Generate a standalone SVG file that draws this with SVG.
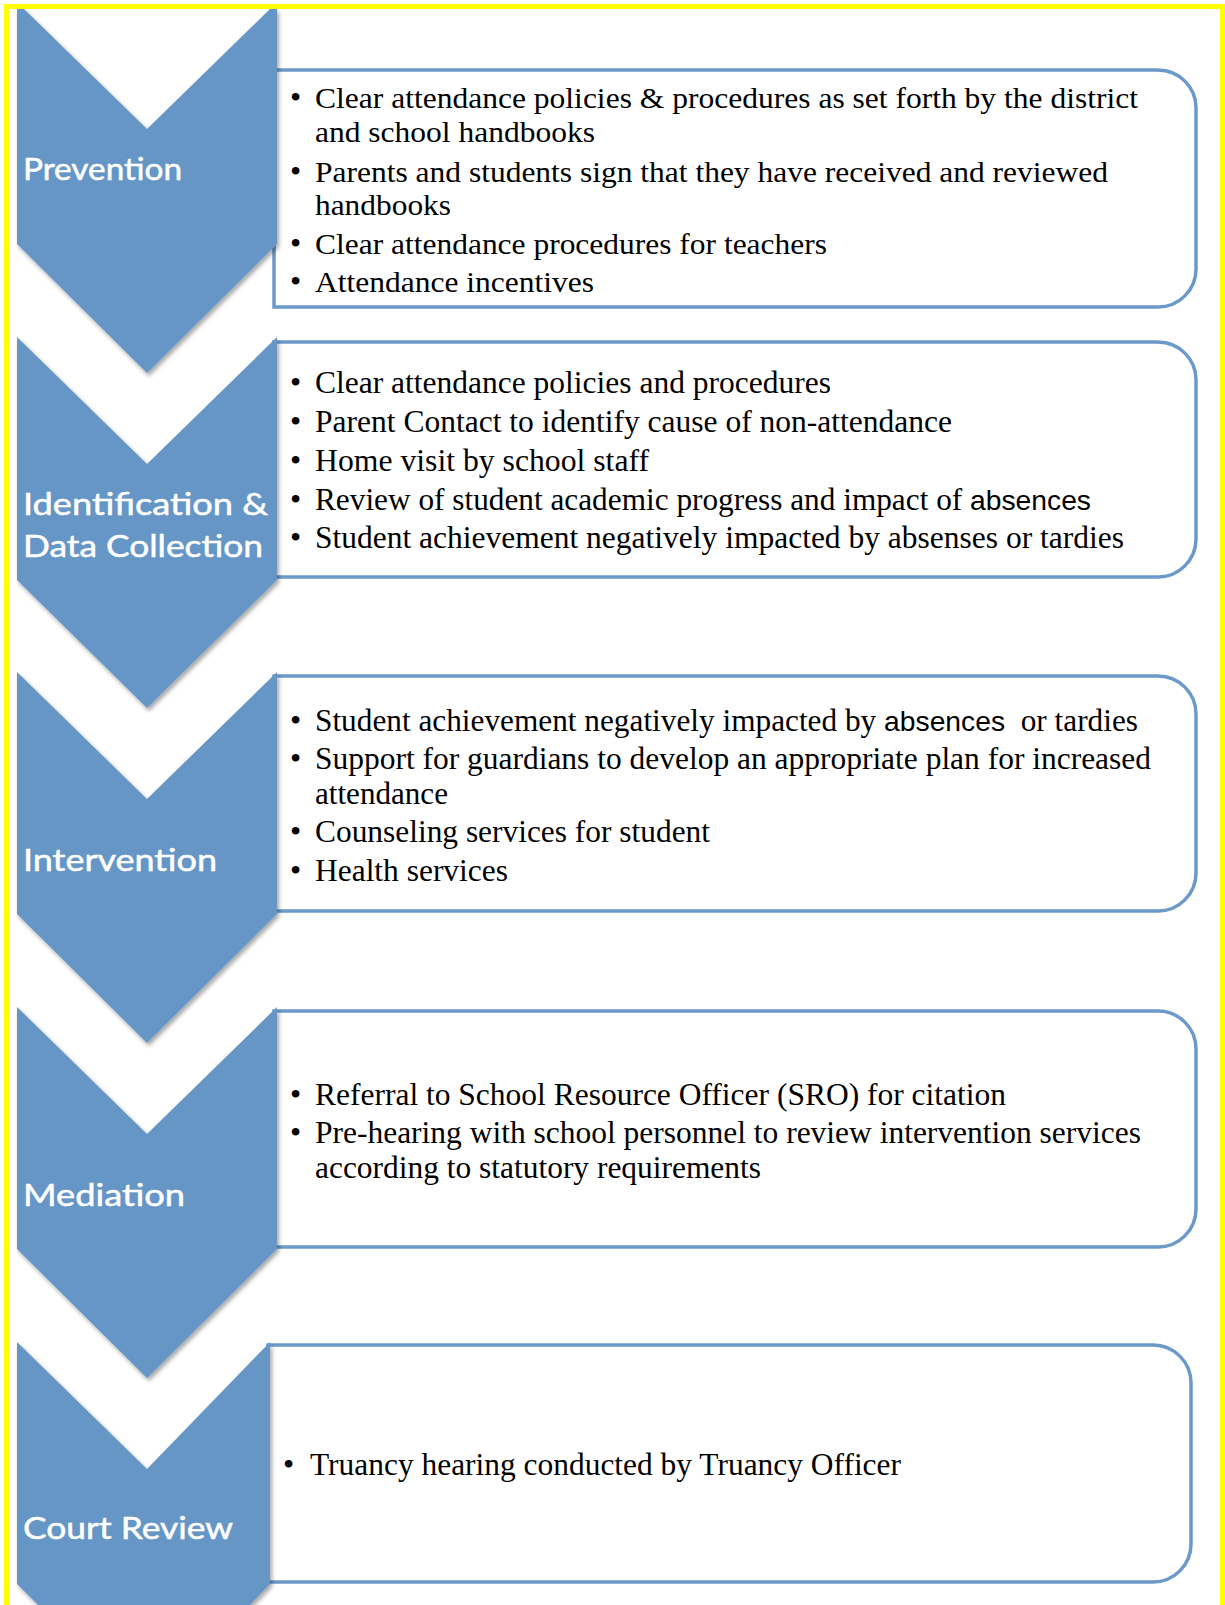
<svg xmlns="http://www.w3.org/2000/svg" width="1225" height="1605" viewBox="0 0 1225 1605">
<style>
.box{fill:#ffffff;stroke:#6B99C9;stroke-width:3.5}
.chev{fill:#6596C6;filter:url(#sh)}
.lbl{font-family:Lato,"Open Sans","Liberation Sans",sans-serif;font-size:30px;fill:#ffffff;stroke:#ffffff;stroke-width:0.5}
.t1{font-family:"Liberation Serif","Times New Roman",serif;font-size:29px;fill:#000000}
.t2{font-family:"Liberation Serif","Times New Roman",serif;font-size:31px;fill:#000000}
.sans{font-family:"Liberation Sans",Arial,sans-serif;font-size:28px}
.bul{font-family:"Liberation Serif",serif;font-size:32px;fill:#000000}
</style>
<defs>
<filter id="sh" x="-10%" y="-10%" width="125%" height="125%">
<feDropShadow dx="2" dy="3" stdDeviation="2" flood-color="#000000" flood-opacity="0.35"/>
</filter>
</defs>
<rect x="0" y="0" width="1225" height="1605" fill="#ffffff"/>

<g id="connectors"></g>

<g id="box-prevention">
<path class="box" d="M274,70 H1158 A38,38 0 0 1 1196,108 V269 A38,38 0 0 1 1158,307 H274 Z"/>
<text class="bul" x="290" y="108">•</text>
<text class="t1" x="315" y="108" textLength="823" lengthAdjust="spacingAndGlyphs">Clear attendance policies &amp; procedures as set forth by the district</text>
<text class="t1" x="315" y="142" textLength="280" lengthAdjust="spacingAndGlyphs">and school handbooks</text>
<text class="bul" x="290" y="182">•</text>
<text class="t1" x="315" y="182" textLength="793" lengthAdjust="spacingAndGlyphs">Parents and students sign that they have received and reviewed</text>
<text class="t1" x="315" y="215" textLength="136" lengthAdjust="spacingAndGlyphs">handbooks</text>
<text class="bul" x="290" y="254">•</text>
<text class="t1" x="315" y="254" textLength="512" lengthAdjust="spacingAndGlyphs">Clear attendance procedures for teachers</text>
<text class="bul" x="290" y="292">•</text>
<text class="t1" x="315" y="292" textLength="279" lengthAdjust="spacingAndGlyphs">Attendance incentives</text>
</g>

<g id="box-identification">
<path class="box" d="M274,342 H1158 A38,38 0 0 1 1196,380 V539 A38,38 0 0 1 1158,577 H274 Z"/>
<text class="bul" x="290" y="393">•</text>
<text class="t2" x="315" y="393" textLength="516" lengthAdjust="spacingAndGlyphs">Clear attendance policies and procedures</text>
<text class="bul" x="290" y="432">•</text>
<text class="t2" x="315" y="432" textLength="637" lengthAdjust="spacingAndGlyphs">Parent Contact to identify cause of non-attendance</text>
<text class="bul" x="290" y="471">•</text>
<text class="t2" x="315" y="471" textLength="334" lengthAdjust="spacingAndGlyphs">Home visit by school staff</text>
<text class="bul" x="290" y="510">•</text>
<text class="t2" x="315" y="510" textLength="776" lengthAdjust="spacingAndGlyphs">Review of student academic progress and impact of <tspan class="sans">absences</tspan></text>
<text class="bul" x="290" y="548">•</text>
<text class="t2" x="315" y="548" textLength="809" lengthAdjust="spacingAndGlyphs">Student achievement negatively impacted by absenses or tardies</text>
</g>

<g id="box-intervention">
<path class="box" d="M274,676 H1158 A38,38 0 0 1 1196,714 V873 A38,38 0 0 1 1158,911 H274 Z"/>
<text class="bul" x="290" y="731">•</text>
<text class="t2" x="315" y="731" textLength="823" lengthAdjust="spacingAndGlyphs" xml:space="preserve">Student achievement negatively impacted by <tspan class="sans">absences</tspan>  or tardies</text>
<text class="bul" x="290" y="769">•</text>
<text class="t2" x="315" y="769" textLength="836" lengthAdjust="spacingAndGlyphs">Support for guardians to develop an appropriate plan for increased</text>
<text class="t2" x="315" y="804" textLength="133" lengthAdjust="spacingAndGlyphs">attendance</text>
<text class="bul" x="290" y="842">•</text>
<text class="t2" x="315" y="842" textLength="395" lengthAdjust="spacingAndGlyphs">Counseling services for student</text>
<text class="bul" x="290" y="881">•</text>
<text class="t2" x="315" y="881" textLength="193" lengthAdjust="spacingAndGlyphs">Health services</text>
</g>

<g id="box-mediation">
<path class="box" d="M274,1011 H1158 A38,38 0 0 1 1196,1049 V1209 A38,38 0 0 1 1158,1247 H274 Z"/>
<text class="bul" x="290" y="1105">•</text>
<text class="t2" x="315" y="1105" textLength="691" lengthAdjust="spacingAndGlyphs">Referral to School Resource Officer (SRO) for citation</text>
<text class="bul" x="290" y="1143">•</text>
<text class="t2" x="315" y="1143" textLength="826" lengthAdjust="spacingAndGlyphs">Pre-hearing with school personnel to review intervention services</text>
<text class="t2" x="315" y="1178" textLength="446" lengthAdjust="spacingAndGlyphs">according to statutory requirements</text>
</g>

<g id="box-court">
<path class="box" d="M268,1345 H1153 A38,38 0 0 1 1191,1383 V1544 A38,38 0 0 1 1153,1582 H268 Z"/>
<text class="bul" x="283" y="1475">•</text>
<text class="t2" x="310" y="1475" textLength="591" lengthAdjust="spacingAndGlyphs">Truancy hearing conducted by Truancy Officer</text>
</g>

<g id="chevron-prevention">
<path class="chev" d="M17,9 L24,9 L147,129 L270,9 L277,9 L277,244 L147,373 L17,244 Z"/>
<text class="lbl" x="23" y="180" textLength="159" lengthAdjust="spacingAndGlyphs">Prevention</text>
</g>
<g id="chevron-identification">
<path class="chev" d="M17,337 L147,464 L277,337 L277,580 L147,708 L17,580 Z"/>
<text class="lbl" x="23" y="515" textLength="245" lengthAdjust="spacingAndGlyphs">Identification &amp;</text>
<text class="lbl" x="23" y="557" textLength="240" lengthAdjust="spacingAndGlyphs">Data Collection</text>
</g>
<g id="chevron-intervention">
<path class="chev" d="M17,672 L147,799 L277,672 L277,914 L147,1043 L17,914 Z"/>
<text class="lbl" x="23" y="871" textLength="194" lengthAdjust="spacingAndGlyphs">Intervention</text>
</g>
<g id="chevron-mediation">
<path class="chev" d="M17,1007 L147,1134 L277,1007 L277,1249 L147,1378 L17,1249 Z"/>
<text class="lbl" x="23" y="1206" textLength="162" lengthAdjust="spacingAndGlyphs">Mediation</text>
</g>
<g id="chevron-court">
<path class="chev" d="M17,1342 L147,1469 L270,1342 L270,1584 L147,1713 L17,1584 Z"/>
<text class="lbl" x="23" y="1539" textLength="210" lengthAdjust="spacingAndGlyphs">Court Review</text>
</g>

<rect x="6.5" y="6.5" width="1216" height="1640" fill="none" stroke="#FFFF00" stroke-width="5"/>
</svg>
